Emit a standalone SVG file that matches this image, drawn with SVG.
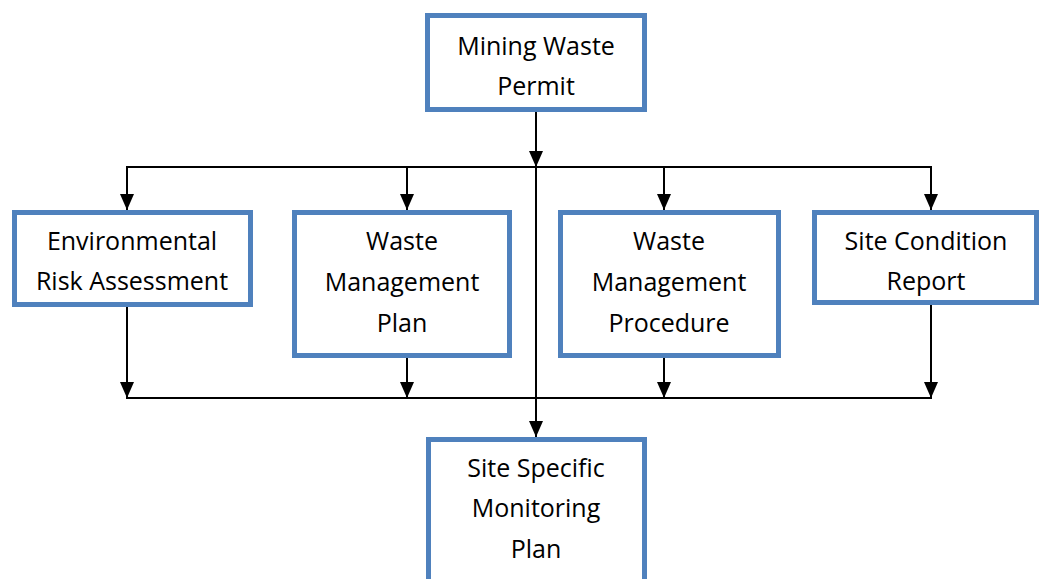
<svg xmlns="http://www.w3.org/2000/svg" width="1043" height="579" viewBox="0 0 1043 579">
<style>
.box{fill:#fff;stroke:#4F81BD;stroke-width:5}
.t{font-family:"Open Sans","Noto Sans",sans-serif;font-size:25px;fill:#000;text-anchor:middle}
.c{stroke:#000;stroke-width:2;fill:none}
</style>
<defs>
<marker id="ah" markerUnits="userSpaceOnUse" markerWidth="16" markerHeight="14" refX="16" refY="7" orient="auto" viewBox="0 0 16 14">
<path d="M0,0 L16,7 L0,14 Z" fill="#000"/>
</marker>
</defs>
<rect width="1043" height="579" fill="#fff"/>
<g id="connectors">
<line class="c" x1="536" y1="112" x2="536" y2="167" marker-end="url(#ah)"/>
<line class="c" x1="126" y1="167" x2="932" y2="167"/>
<line class="c" x1="127" y1="167" x2="127" y2="210" marker-end="url(#ah)"/>
<line class="c" x1="407" y1="167" x2="407" y2="210" marker-end="url(#ah)"/>
<line class="c" x1="664" y1="167" x2="664" y2="210" marker-end="url(#ah)"/>
<line class="c" x1="931" y1="167" x2="931" y2="210" marker-end="url(#ah)"/>
<line class="c" x1="536" y1="167" x2="536" y2="437" marker-end="url(#ah)"/>
<line class="c" x1="127" y1="307" x2="127" y2="398" marker-end="url(#ah)"/>
<line class="c" x1="407" y1="358" x2="407" y2="398" marker-end="url(#ah)"/>
<line class="c" x1="664" y1="358" x2="664" y2="398" marker-end="url(#ah)"/>
<line class="c" x1="931" y1="305" x2="931" y2="398" marker-end="url(#ah)"/>
<line class="c" x1="126" y1="398" x2="932" y2="398"/>
</g>
<g id="mining-waste-permit">
<rect class="box" x="427.5" y="15.5" width="217" height="94"/>
<text class="t" x="536" y="55">Mining Waste</text>
<text class="t" x="536" y="95">Permit</text>
</g>
<g id="environmental-risk-assessment">
<rect class="box" x="14.5" y="212.5" width="236" height="92"/>
<text class="t" x="132" y="250">Environmental</text>
<text class="t" x="132" y="290">Risk Assessment</text>
</g>
<g id="waste-management-plan">
<rect class="box" x="294.5" y="212.5" width="215" height="143"/>
<text class="t" x="402" y="250">Waste</text>
<text class="t" x="402" y="291">Management</text>
<text class="t" x="402" y="332">Plan</text>
</g>
<g id="waste-management-procedure">
<rect class="box" x="560.5" y="212.5" width="218" height="143"/>
<text class="t" x="669" y="250">Waste</text>
<text class="t" x="669" y="291">Management</text>
<text class="t" x="669" y="332">Procedure</text>
</g>
<g id="site-condition-report">
<rect class="box" x="814.5" y="212.5" width="222" height="90"/>
<text class="t" x="926" y="250">Site Condition</text>
<text class="t" x="926" y="290">Report</text>
</g>
<g id="site-specific-monitoring-plan">
<rect class="box" x="428.5" y="439.5" width="216" height="150"/>
<text class="t" x="536" y="477">Site Specific</text>
<text class="t" x="536" y="517">Monitoring</text>
<text class="t" x="536" y="558">Plan</text>
</g>
</svg>
